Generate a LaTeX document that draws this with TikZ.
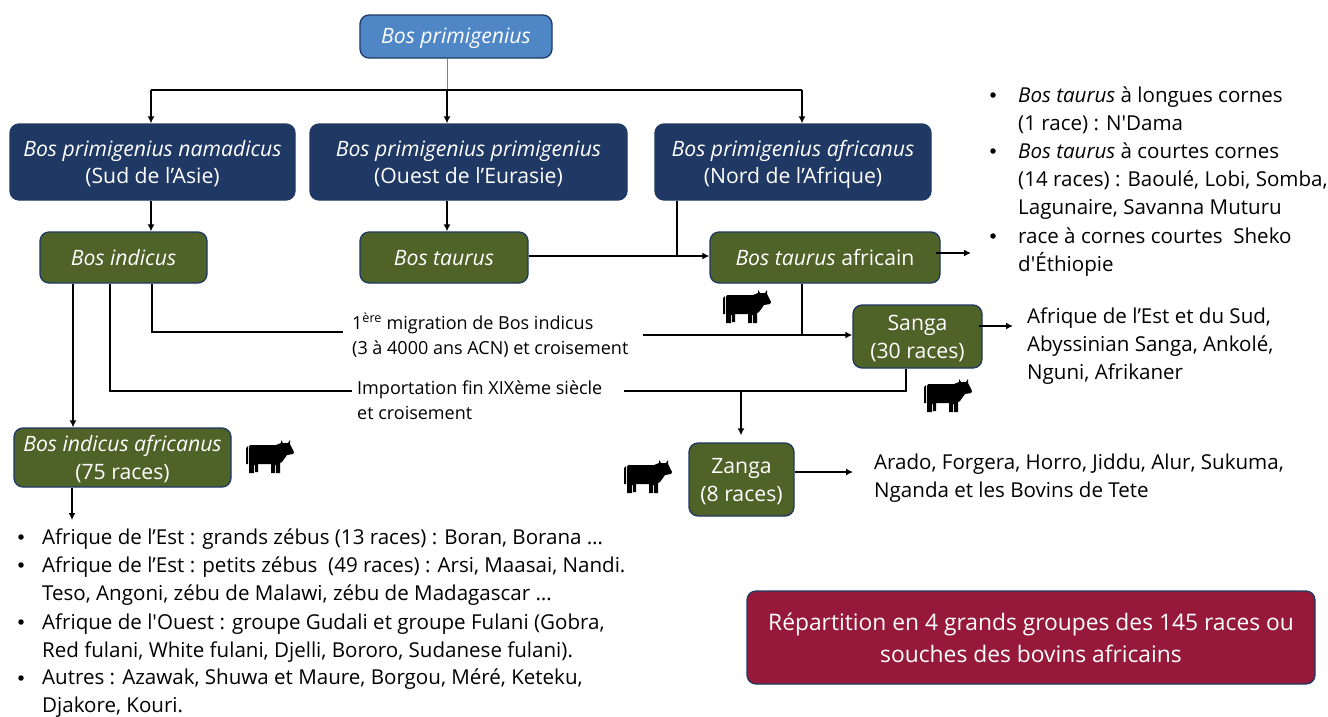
\documentclass[tikz,border=0pt]{standalone}
\usepackage{fontspec}
\setmainfont{Open Sans}
\usetikzlibrary{arrows.meta}
\definecolor{cblue}{HTML}{4F86C6}
\definecolor{cnavy}{HTML}{1F3864}
\definecolor{cgreen}{HTML}{4F6228}
\definecolor{cred}{HTML}{97193A}
\newcommand{\sizeA}{\fontsize{20.55}{28}\selectfont}
\newcommand{\sizeD}{\fontsize{21.2}{27.5}\selectfont}
\newcommand{\sizeB}{\fontsize{18}{25}\selectfont}
\newcommand{\sizeC}{\fontsize{22.8}{32}\selectfont}
\newcommand{\topgap}{\rule{0pt}{21pt}}
\tikzset{
  box/.style={draw=cnavy,line width=1.3pt,rounded corners=9pt,text=white,align=center,inner sep=0pt,font=\sizeD},
  boxtext/.style={execute at begin node={\rule{0pt}{20pt}},execute at end node={\rule[-5pt]{0pt}{5pt}}},
  bluebox/.style={box,boxtext,fill=cblue},
  navybox/.style={box,boxtext,fill=cnavy},
  greenbox/.style={box,boxtext,fill=cgreen},
  redbox/.style={box,fill=cred,font=\sizeC},
  link/.style={draw=black,line width=1.5pt},
  arr/.style={link,-{Latex[length=7pt,width=7pt]}},
  thinlink/.style={draw=gray,line width=0.8pt},
  txt/.style={anchor=north west,align=left,inner sep=0pt,text=black,font=\sizeA},
  lab/.style={txt,font=\sizeB},
  bul/.style={circle,fill=black,inner sep=0pt,minimum size=5.5pt},
  cow/.pic={
    \fill[black] (0,8) -- (2,6) -- (2,24) -- (0,24) -- cycle;
    \fill[black] (3,7) -- (4,5) -- (30,5) -- (35,3) -- (35,0) -- (37,3) -- (42,3) -- (44,0) -- (44,4) -- (48,12) -- (47,14) -- (41,15) -- (36,22) -- (34,23) -- (34,33) -- (30,33) -- (30,25) -- (29,25) -- (29,33) -- (25,33) -- (25,24) -- (12,24) -- (12,32) -- (9,32) -- (9,25) -- (8,25) -- (8,33) -- (3,33) -- cycle;
  }
}
\begin{document}
\begin{tikzpicture}[x=1pt,y=-1pt]
\useasboundingbox (0,0) rectangle (1328,716);
% boxes
\node[bluebox,minimum width=192pt,minimum height=43pt] (root) at (456,36.5) {\itshape Bos primigenius};
\node[navybox,minimum width=285pt,minimum height=76pt] (nam) at (152.5,162) {\topgap\textit{Bos primigenius namadicus}\\(Sud de l’Asie)};
\node[navybox,minimum width=317pt,minimum height=76pt] (pri) at (468.5,162) {\topgap\textit{Bos primigenius primigenius}\\(Ouest de l’Eurasie)};
\node[navybox,minimum width=276pt,minimum height=76pt] (afr) at (793,162) {\topgap\textit{Bos primigenius africanus}\\(Nord de l’Afrique)};
\node[greenbox,minimum width=167pt,minimum height=51pt] (ind) at (123.5,257.5) {\itshape Bos indicus};
\node[greenbox,minimum width=168pt,minimum height=51pt] (tau) at (444,257.5) {\itshape Bos taurus};
\node[greenbox,minimum width=230pt,minimum height=51pt] (tafr) at (825,257.5) {\textit{Bos taurus} africain};
\node[greenbox,minimum width=129pt,minimum height=63pt] (san) at (917.5,336.5) {\topgap Sanga\\(30 races)};
\node[greenbox,minimum width=217pt,minimum height=59pt] (iafr) at (122.5,457.5) {\topgap\textit{Bos indicus africanus}\\(75 races)};
\node[greenbox,minimum width=105pt,minimum height=73pt] (zan) at (741.5,479.5) {\topgap Zanga\\(8 races)};
\node[redbox,minimum width=568pt,minimum height=93pt] (rep) at (1031,637.5) {Répartition en 4 grands groupes des 145 races ou\\souches des bovins africains};
% labels
\node[lab] (l1) at (352,313) {1\textsuperscript{ère} migration de Bos indicus\\(3 à 4000 ans ACN) et croisement};
\node[lab] (l2) at (357,381) {Importation fin XIXème siècle\\et croisement};
\node[txt] (tsan) at (1027,308) {Afrique de l’Est et du Sud,\\Abyssinian Sanga, Ankolé,\\Nguni, Afrikaner};
\node[txt] (tzan) at (874,454) {Arado, Forgera, Horro, Jiddu, Alur, Sukuma,\\Nganda et les Bovins de Tete};
% right list
\node[bul] (r1) at (993,95) {};
\node[txt] (rt1) at (1018,87) {\textit{Bos taurus} à longues cornes\\(1 race) : N\textquotesingle Dama};
\node[bul] (r2) at (993,151) {};
\node[txt] (rt2) at (1018,143) {\textit{Bos taurus} à courtes cornes\\(14 races) : Baoulé, Lobi, Somba,\\Lagunaire, Savanna Muturu};
\node[bul] (r3) at (993,236) {};
\node[txt] (rt3) at (1018,228) {race à cornes courtes~~Sheko\\d\textquotesingle Éthiopie};
% bottom list
\node[bul] (b1) at (21,537) {};
\node[txt] (bt1) at (42,529) {Afrique de l’Est : grands zébus (13 races) : Boran, Borana …};
\node[bul] (b2) at (21,565) {};
\node[txt] (bt2) at (42,557) {Afrique de l’Est : petits zébus~~(49 races) : Arsi, Maasai, Nandi.\\Teso, Angoni, zébu de Malawi, zébu de Madagascar …};
\node[bul] (b3) at (21,622) {};
\node[txt] (bt3) at (42,614) {Afrique de l\textquotesingle Ouest : groupe Gudali et groupe Fulani (Gobra,\\Red fulani, White fulani, Djelli, Bororo, Sudanese fulani).};
\node[bul] (b4) at (21,678) {};
\node[txt] (bt4) at (42,669) {Autres : Azawak, Shuwa et Maure, Borgou, Méré, Keteku,\\Djakore, Kouri.};
% helper coordinates
\coordinate (busL) at (151,90);
\coordinate (busM) at (447,90);
\coordinate (busR) at (802,90);
\coordinate (j1) at (677,256);
\coordinate (m1c) at (152,332);
\coordinate (m1e) at (343,332);
\coordinate (m1s) at (643,335);
\coordinate (m2c) at (110,391);
\coordinate (m2e) at (352,391);
\coordinate (m2s) at (624,391);
\coordinate (m2t) at (906,391);
\coordinate (m2j) at (741,391);
\coordinate (tafrJ) at (802,335);
\coordinate (tafrE) at (971,253);
\coordinate (sanE) at (1013,326);
\coordinate (zanE) at (853,472);
\coordinate (iafrE) at (72,520);
\coordinate (iL) at (73,350);
% connectors
\draw[thinlink] (busM |- root.south) -- (busM);
\draw[link] (busL) -- (busR);
\draw[arr] (busL) -- (busL |- nam.north);
\draw[arr] (busM) -- (busM |- pri.north);
\draw[arr] (busR) -- (busR |- afr.north);
\draw[arr] (busL |- nam.south) -- (busL |- ind.north);
\draw[arr] (busM |- pri.south) -- (busM |- tau.north);
\draw[link] (j1 |- afr.south) -- (j1);
\draw[arr] (tau.east |- j1) -- (tafr.west |- j1);
\draw[arr] ([xshift=-5pt]tafr.east |- tafrE) -- (tafrE);
\draw[link] (tafrJ |- tafr.south) -- (tafrJ);
\draw[link] (m1c |- ind.south) -- (m1c) -- (m1e);
\draw[arr] (m1s) -- (san.west |- m1s);
\draw[link] (m2c |- ind.south) -- (m2c) -- (m2e);
\draw[link] (m2s) -- (m2t) -- (m2t |- san.south);
\draw[arr] (m2j) -- ([yshift=7pt]m2j |- zan.north);
\draw[arr] (iL |- ind.south) -- (iL |- iafr.north);
\draw[arr] (iafrE |- iafr.south) -- (iafrE);
\draw[arr] ([xshift=-4pt]san.east |- sanE) -- (sanE);
\draw[arr] (zan.east |- zanE) -- (zanE);
% cows
\pic at (723,290) {cow};
\pic at (924,379) {cow};
\pic at (246,440) {cow};
\pic at (624,460) {cow};
\end{tikzpicture}
\end{document}
